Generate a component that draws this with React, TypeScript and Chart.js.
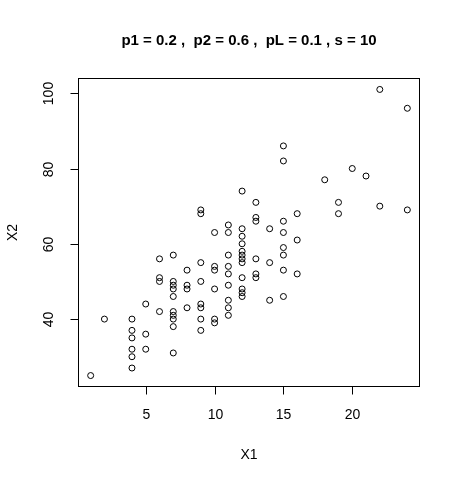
import React, { useEffect, useRef } from "react";
import { Chart, registerables } from "chart.js";

Chart.register(...registerables);

const titleText = "p1 = 0.2 ,  p2 = 0.6 ,  pL = 0.1 , s = 10";
const xLabel = "X1";
const yLabel = "X2";
const xTickValues = [5, 10, 15, 20];
const yTickValues = [40, 60, 80, 100];

const x1Values = [
  1,
  2,
  4, 4, 4, 4, 4, 4,
  5, 5, 5,
  6, 6, 6, 6,
  7, 7, 7, 7, 7, 7, 7, 7, 7, 7,
  8, 8, 8, 8,
  9, 9, 9, 9, 9, 9, 9, 9,
  10, 10, 10, 10, 10, 10,
  11, 11, 11, 11, 11, 11, 11, 11, 11,
  12, 12, 12, 12, 12, 12, 12, 12, 12, 12, 12, 12,
  13, 13, 13, 13, 13, 13,
  14, 14, 14,
  15, 15, 15, 15, 15, 15, 15, 15,
  16, 16, 16,
  18,
  19, 19,
  20,
  21,
  22, 22,
  24, 24,
];

const x2Values = [
  25,
  40,
  40, 37, 35, 32, 30, 27,
  44, 36, 32,
  56, 51, 50, 42,
  57, 50, 49, 48, 46, 42, 41, 40, 38, 31,
  53, 49, 48, 43,
  69, 68, 55, 50, 44, 43, 40, 37,
  63, 54, 53, 48, 40, 39,
  65, 63, 57, 54, 52, 49, 45, 43, 41,
  74, 64, 62, 60, 58, 57, 56, 55, 51, 48, 47, 46,
  71, 67, 66, 56, 52, 51,
  64, 55, 45,
  86, 82, 66, 63, 59, 57, 53, 46,
  68, 61, 52,
  77,
  71, 68,
  80,
  78,
  101, 70,
  96, 69,
];

const FONT = "'Liberation Sans', Arial, Helvetica, sans-serif";

const rAxesPlugin = {
  id: "rAxes",
  afterDraw(chart: any) {
    const { ctx, chartArea: a, scales } = chart;
    const xs = scales.x;
    const ys = scales.y;
    ctx.save();
    ctx.strokeStyle = "#000";
    ctx.fillStyle = "#000";
    ctx.lineWidth = 1;
    // box
    ctx.strokeRect(Math.round(a.left) + 0.5, Math.round(a.top) + 0.5, Math.round(a.right - a.left) - 1, Math.round(a.bottom - a.top) - 1);

    const xTicks = xs.ticks && xs.ticks.length ? xs.ticks.map((t: any) => t.value) : xTickValues;
    const yTicks = ys.ticks && ys.ticks.length ? ys.ticks.map((t: any) => t.value) : yTickValues;

    ctx.font = `14px ${FONT}`;
    ctx.textAlign = "center";
    ctx.textBaseline = "middle";
    const bottom = Math.round(a.bottom) - 0.5;
    xTicks.forEach((v: number) => {
      const px = Math.round(xs.getPixelForValue(v)) + 0.5;
      ctx.beginPath();
      ctx.moveTo(px, bottom);
      ctx.lineTo(px, bottom + 8);
      ctx.stroke();
      ctx.fillText(String(v), px, 415);
    });
    const left = Math.round(a.left) + 0.5;
    yTicks.forEach((v: number) => {
      const py = Math.round(ys.getPixelForValue(v)) + 0.5;
      ctx.beginPath();
      ctx.moveTo(left, py);
      ctx.lineTo(left - 8, py);
      ctx.stroke();
      ctx.save();
      ctx.translate(49, py);
      ctx.rotate(-Math.PI / 2);
      ctx.fillText(String(v), 0, 0);
      ctx.restore();
    });

    // axis titles
    const cx = (a.left + a.right) / 2;
    const cy = (a.top + a.bottom) / 2;
    ctx.fillText(xLabel, cx, 455);
    ctx.save();
    ctx.translate(13, cy);
    ctx.rotate(-Math.PI / 2);
    ctx.fillText(yLabel, 0, 0);
    ctx.restore();

    // main title
    ctx.font = `bold 15px ${FONT}`;
    ctx.fillText(titleText, cx, 41);
    ctx.restore();
  },
};

export default function App() {
  const canvasRef = useRef<HTMLCanvasElement | null>(null);

  useEffect(() => {
    if (!canvasRef.current) return;
    const points = x1Values.map((x, i) => ({ x, y: x2Values[i] }));
    const chart = new Chart(canvasRef.current, {
      type: "scatter",
      data: {
        datasets: [
          {
            data: points,
            pointStyle: "circle",
            pointRadius: 3,
            pointHoverRadius: 3,
            pointBorderWidth: 1,
            pointBorderColor: "#000",
            pointBackgroundColor: "rgba(0,0,0,0)",
          },
        ],
      },
      options: {
        animation: false,
        responsive: false,
        devicePixelRatio: 1,
        events: [],
        layout: {
          autoPadding: false,
          padding: { left: 78, top: 78, right: 42, bottom: 97 },
        },
        plugins: {
          legend: { display: false },
          tooltip: { enabled: false },
          title: { display: false },
        },
        scales: {
          x: {
            type: "linear",
            display: false,
            min: 0.08,
            max: 24.92,
            afterBuildTicks: (scale: any) => {
              scale.ticks = xTickValues.map((v) => ({ value: v }));
            },
          },
          y: {
            type: "linear",
            display: false,
            min: 21.96,
            max: 104.04,
            afterBuildTicks: (scale: any) => {
              scale.ticks = yTickValues.map((v) => ({ value: v }));
            },
          },
        },
      },
      plugins: [rAxesPlugin],
    });
    return () => chart.destroy();
  }, []);

  return (
    <div style={{ position: "absolute", left: 0, top: 0, width: 462, height: 484, background: "#fff" }}>
      <canvas ref={canvasRef} width={462} height={484} style={{ display: "block" }} />
    </div>
  );
}
